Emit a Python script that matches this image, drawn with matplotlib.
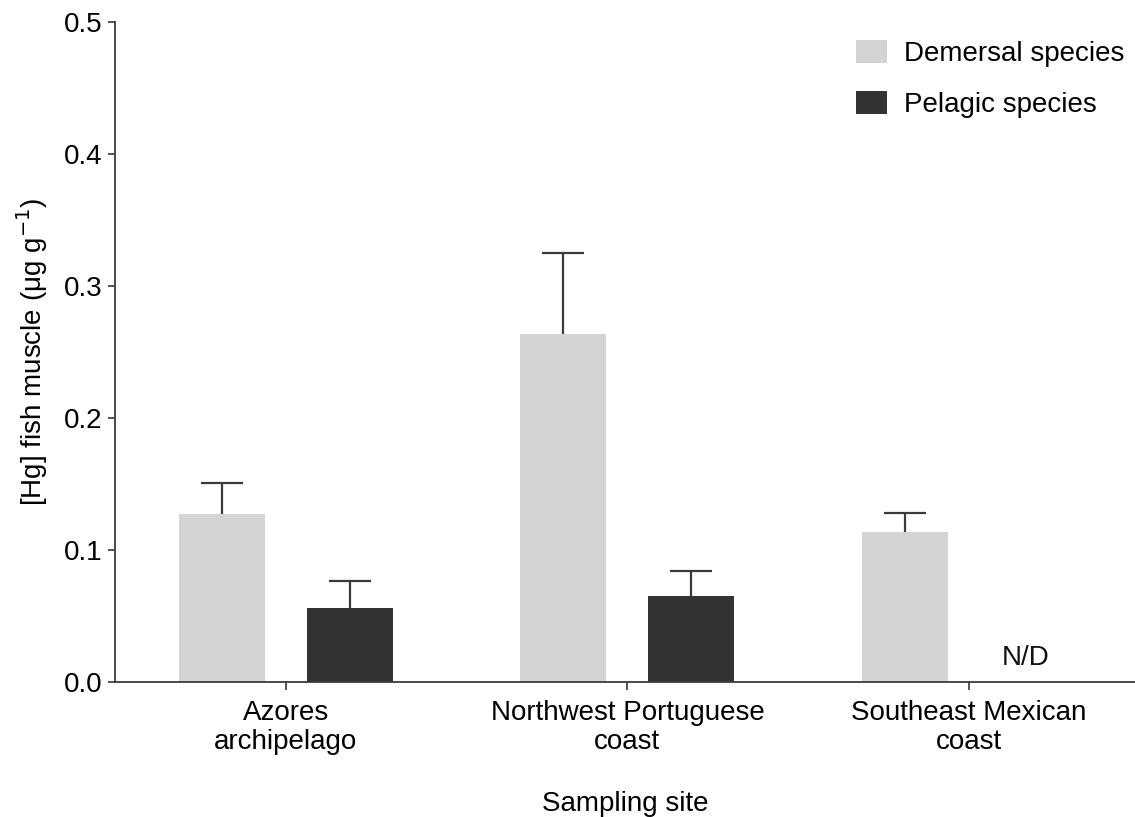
import numpy as np
import matplotlib.pyplot as plt

plt.rcParams['font.family'] = ['Liberation Sans', 'DejaVu Sans']

sites = ['Azores\narchipelago', 'Northwest Portuguese\ncoast', 'Southeast Mexican\ncoast']
demersal = [0.127, 0.264, 0.114]
demersal_sd = [0.024, 0.061, 0.014]
pelagic = [0.056, 0.065]          # no pelagic data for the Mexican coast
pelagic_sd = [0.0205, 0.019]

light = '#d4d4d4'
dark = '#333333'
edge = '#3a3a3a'
fs = 20


def upper_bars(ax, xs, ys, err):
    # one-sided (upper) error bars, hiding the cap at the bar top
    eb = ax.errorbar(xs, ys, yerr=[np.zeros(len(ys)), err], fmt='none', ecolor=edge,
                     elinewidth=1.6, capsize=15, capthick=1.6, zorder=1)
    eb[1][0].set_visible(False)


fig = plt.figure(figsize=(11.35, 8.17), dpi=100)
ax = fig.add_axes([0.1013, 0.1652, 0.8987, 0.8079])

x = np.arange(len(sites))
offset = 0.1875
width = 0.252

ax.bar(x - offset, demersal, width, color=light, label='Demersal species', zorder=2)
upper_bars(ax, x - offset, demersal, demersal_sd)

xp = x[:len(pelagic)] + offset
ax.bar(xp, pelagic, width, color=dark, label='Pelagic species', zorder=2)
upper_bars(ax, xp, pelagic, pelagic_sd)

ax.text(x[2] + 0.165, 0.008, 'N/D', ha='center', va='bottom', fontsize=fs, color='#111111')

ax.set_xlim(-0.5, 2.486)
ax.set_ylim(0, 0.5)
ax.set_yticks(np.arange(0, 0.51, 0.1))
ax.yaxis.set_major_formatter(plt.FormatStrFormatter('%.1f'))
ax.set_xticks(x)
ax.set_xticklabels(sites, fontsize=fs, linespacing=1.15)
ax.tick_params(axis='y', labelsize=fs, direction='out', length=5, width=1.2,
               color=edge, pad=4)
ax.tick_params(axis='x', direction='out', length=6, width=1.2, color=edge, pad=7)

for side in ['top', 'right']:
    ax.spines[side].set_visible(False)
for side in ['left', 'bottom']:
    ax.spines[side].set_color(edge)
    ax.spines[side].set_linewidth(1.3)

ax.set_ylabel('[Hg] fish muscle (\u03bcg g$^{-1}$)', fontsize=fs, labelpad=10)
ax.set_xlabel('Sampling site', fontsize=fs, labelpad=26)

ax.legend(loc='upper right', bbox_to_anchor=(1.0, 0.989), frameon=False, fontsize=fs,
          handlelength=1.1, handleheight=0.9, handletextpad=0.6, labelspacing=0.85,
          borderaxespad=0.0)

fig.savefig('out.png', dpi=100, facecolor='white')
